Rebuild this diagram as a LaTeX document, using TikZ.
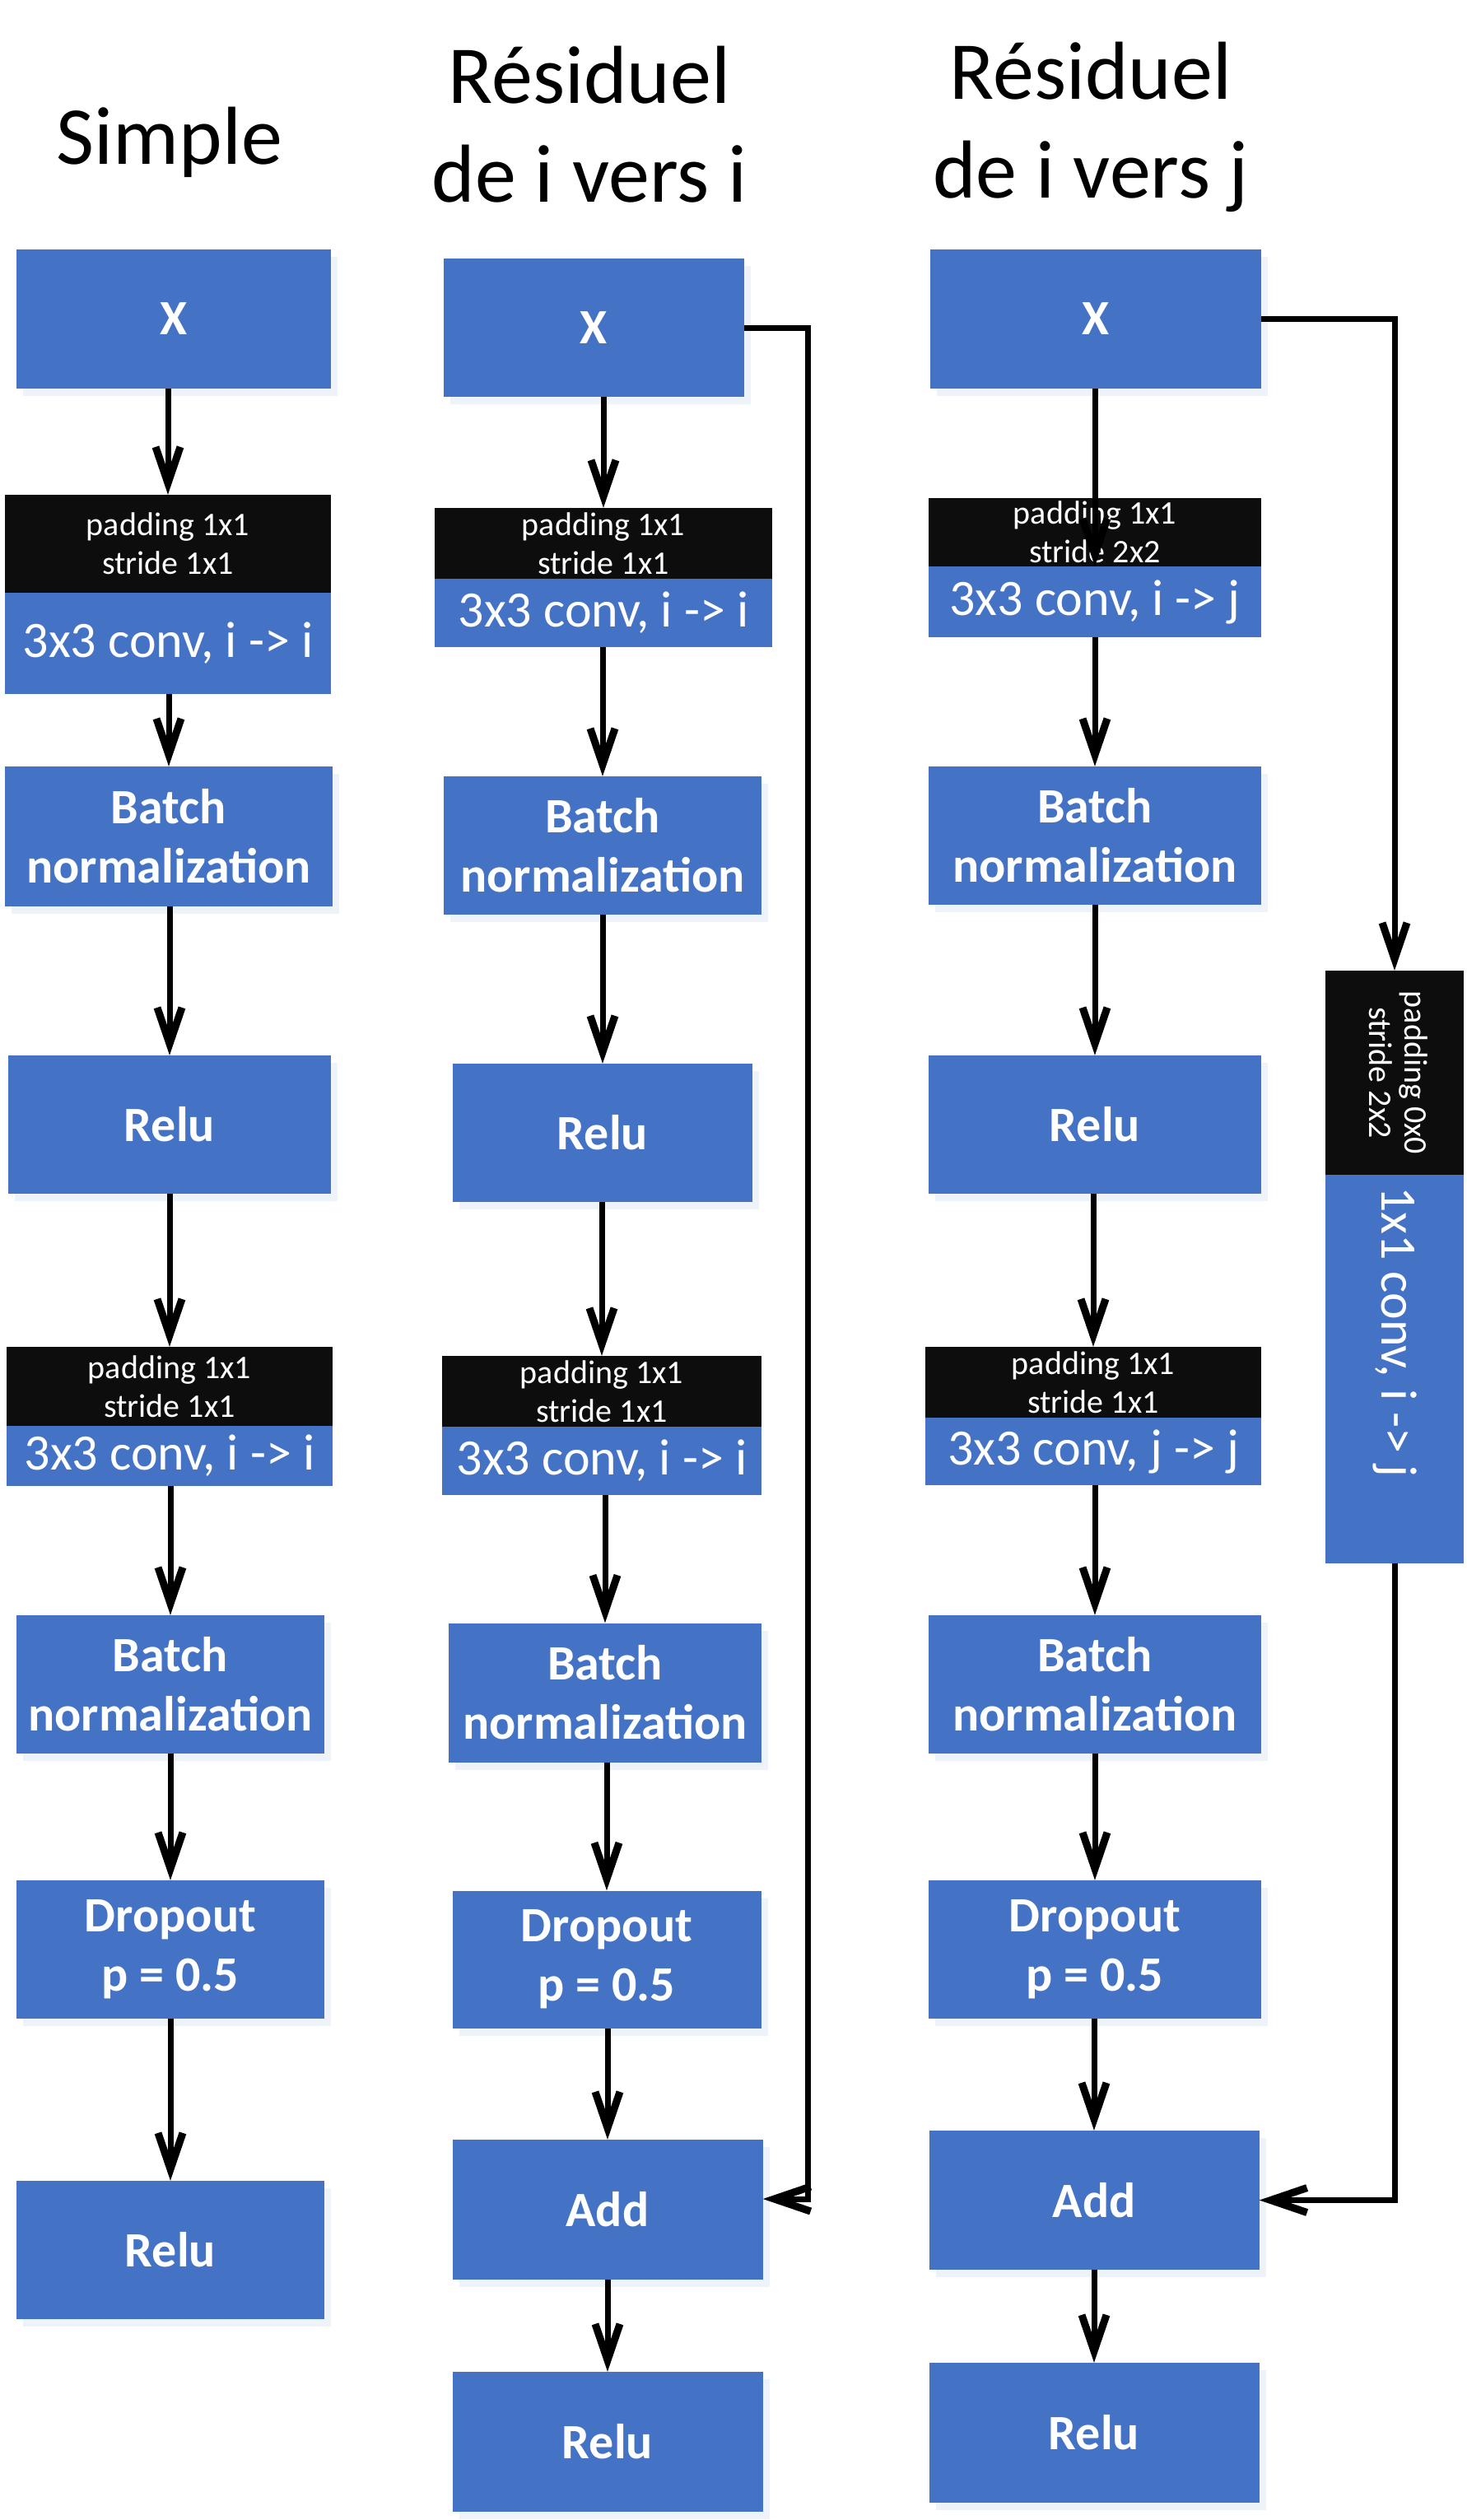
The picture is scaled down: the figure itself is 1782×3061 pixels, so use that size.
\documentclass[tikz,border=0pt]{standalone}
\usepackage{fontspec}
\setmainfont{Carlito}
\usetikzlibrary{arrows.meta,shadows}
\definecolor{boxblue}{HTML}{4472C4}
\definecolor{boxblack}{HTML}{0D0D0D}
\definecolor{shade}{HTML}{EEF3FA}
\tikzset{
  blk/.style={rectangle, fill=boxblue, text=white, inner sep=0pt,
    font=\bfseries\fontsize{60}{72}\selectfont, align=center,
    drop shadow={shadow xshift=8pt, shadow yshift=-9pt, fill=shade, opacity=1}},
  padbox/.style={rectangle, fill=boxblack, text=white, inner sep=0pt,
    font=\fontsize{40}{47}\selectfont, align=center},
  convbox/.style={rectangle, fill=boxblue, text=white, inner sep=0pt,
    font=\fontsize{62}{70}\selectfont},
  ttl/.style={font=\fontsize{100}{115}\selectfont, anchor=base, inner sep=0pt},
  arr/.style={line width=7pt, -{Straight Barb[length=44pt,width=30pt,line width=9pt]}},
}
\begin{document}
\begin{tikzpicture}[x=1pt,y=-1pt]
\useasboundingbox (0,0) rectangle (1782,3061);
% titles
\node[ttl] (t1) at (206,200) {Simple};
\node[ttl] (t2a) at (716,126) {Résiduel};
\node[ttl] (t2b) at (716,246) {de i vers i};
\node[ttl] (t3a) at (1325,121) {Résiduel};
\node[ttl] (t3b) at (1325,241) {de i vers j};

% column 1
\node[blk, minimum width=382pt, minimum height=169pt] (x1) at (211,387.5) {X};
\node[padbox, minimum width=396pt, minimum height=119pt] (p1) at (204,660.5) {padding 1x1\\stride 1x1};
\node[convbox, minimum width=396pt, minimum height=123pt] (c1) at (204,781.5) {3x3 conv, i -> i};
\node[blk, minimum width=398pt, minimum height=170pt] (b1) at (205,1016) {Batch\\normalization};
\node[blk, minimum width=392pt, minimum height=168pt] (r1) at (206,1366) {Relu};
\node[padbox, minimum width=396pt, minimum height=96pt] (p1b) at (206,1684) {padding 1x1\\stride 1x1};
\node[convbox, minimum width=396pt, minimum height=73pt] (c1b) at (206,1768.5) {3x3 conv, i -> i};
\node[blk, minimum width=374pt, minimum height=168pt] (b1b) at (207,2046) {Batch\\normalization};
\node[blk, minimum width=374pt, minimum height=168pt] (d1) at (207,2368) {Dropout\\p = 0.5};
\node[blk, minimum width=374pt, minimum height=168pt] (r1b) at (207,2733) {Relu};

% column 2
\node[blk, minimum width=365pt, minimum height=168pt] (x2) at (721,398) {X};
\node[padbox, minimum width=410pt, minimum height=86pt] (p2) at (733,660) {padding 1x1\\stride 1x1};
\node[convbox, minimum width=410pt, minimum height=83pt] (c2) at (733,744.5) {3x3 conv, i -> i};
\node[blk, minimum width=386pt, minimum height=168pt] (b2) at (732,1027) {Batch\\normalization};
\node[blk, minimum width=364pt, minimum height=168pt] (r2) at (732,1376) {Relu};
\node[padbox, minimum width=388pt, minimum height=86pt] (p2b) at (731,1690) {padding 1x1\\stride 1x1};
\node[convbox, minimum width=388pt, minimum height=83pt] (c2b) at (731,1774.5) {3x3 conv, i -> i};
\node[blk, minimum width=380pt, minimum height=169pt] (b2b) at (735,2056) {Batch\\normalization};
\node[blk, minimum width=375pt, minimum height=167pt] (d2) at (737,2380) {Dropout\\p = 0.5};
\node[blk, minimum width=377pt, minimum height=170pt] (a2) at (738,2684) {Add};
\node[blk, minimum width=377pt, minimum height=170pt] (r2b) at (738,2966) {Relu};

% column 3
\node[blk, minimum width=402pt, minimum height=169pt] (x3) at (1331,387.5) {X};
\node[padbox, minimum width=404pt, minimum height=83pt] (p3) at (1330,646.5) {padding 1x1\\stride 2x2};
\node[convbox, minimum width=404pt, minimum height=86pt] (c3) at (1330,731) {3x3 conv, i -> j};
\node[blk, minimum width=404pt, minimum height=168pt] (b3) at (1330,1015) {Batch\\normalization};
\node[blk, minimum width=404pt, minimum height=168pt] (r3) at (1330,1366) {Relu};
\node[padbox, minimum width=408pt, minimum height=86pt] (p3b) at (1328,1679) {padding 1x1\\stride 1x1};
\node[convbox, minimum width=408pt, minimum height=82pt] (c3b) at (1328,1763) {3x3 conv, j -> j};
\node[blk, minimum width=404pt, minimum height=168pt] (b3b) at (1330,2046) {Batch\\normalization};
\node[blk, minimum width=404pt, minimum height=168pt] (d3) at (1330,2368) {Dropout\\p = 0.5};
\node[blk, minimum width=401pt, minimum height=169pt] (a3) at (1329,2672.5) {Add};
\node[blk, minimum width=401pt, minimum height=170pt] (r3b) at (1329,2955) {Relu};

% shortcut branch of column 3
\node[padbox, minimum width=168pt, minimum height=248pt] (pr) at (1694,1303)
  {\rotatebox{-90}{\begin{tabular}{@{}c@{}}padding 0x0\\[-4pt]stride 2x2\end{tabular}}};
\node[convbox, minimum width=168pt, minimum height=472pt] (cr) at (1694,1663)
  {\rotatebox{-90}{\makebox[444pt][l]{1x1 conv, i -> j}}};

% arrows column 1
\draw[arr] (x1.south -| p1.north) -- (p1.north);
\draw[arr] (c1.south -| b1.north) -- (b1.north);
\draw[arr] (b1.south -| r1.north) -- (r1.north);
\draw[arr] (r1.south -| p1b.north) -- (p1b.north);
\draw[arr] (c1b.south -| b1b.north) -- (b1b.north);
\draw[arr] (b1b.south -| d1.north) -- (d1.north);
\draw[arr] (d1.south -| r1b.north) -- (r1b.north);

% arrows column 2
\draw[arr] (x2.south -| p2.north) -- (p2.north);
\draw[arr] (c2.south -| b2.north) -- (b2.north);
\draw[arr] (b2.south -| r2.north) -- (r2.north);
\draw[arr] (r2.south -| p2b.north) -- (p2b.north);
\draw[arr] (c2b.south -| b2b.north) -- (b2b.north);
\draw[arr] (b2b.south -| d2.north) -- (d2.north);
\draw[arr] (d2.south -| a2.north) -- (a2.north);
\draw[arr] (a2.south -| r2b.north) -- (r2b.north);
\draw[arr] (x2.east) -- ++(78,0) |- ([yshift=13pt]a2.east);

% arrows column 3
\draw[arr] (x3.south -| c3.north) -- (c3.north);
\draw[arr] (c3.south -| b3.north) -- (b3.north);
\draw[arr] (b3.south -| r3.north) -- (r3.north);
\draw[arr] (r3.south -| p3b.north) -- (p3b.north);
\draw[arr] (c3b.south -| b3b.north) -- (b3b.north);
\draw[arr] (b3b.south -| d3.north) -- (d3.north);
\draw[arr] (d3.south -| a3.north) -- (a3.north);
\draw[arr] (a3.south -| r3b.north) -- (r3b.north);
\draw[arr] (x3.east) -| (pr.north);
\draw[arr] (cr.south) |- (a3.east);
\end{tikzpicture}
\end{document}
